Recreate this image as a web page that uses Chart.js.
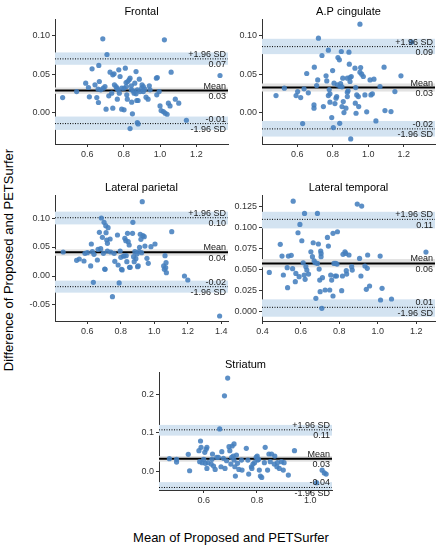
<!DOCTYPE html>
<html>
<head>
<meta charset="utf-8">
<script src="https://cdn.jsdelivr.net/npm/chart.js@4.4.0/dist/chart.umd.min.js"></script>
<style>
  html, body { margin: 0; padding: 0; background: #fff; }
  #wrap { position: relative; width: 442px; height: 550px; overflow: hidden;
          font-family: "Liberation Sans", Arial, Helvetica, sans-serif; color: #000; }
  .panel { position: absolute; }
  .ytitle { position: absolute; left: 8px; top: 260px; font-size: 13px; white-space: nowrap;
            transform: translate(-50%, -50%) rotate(-90deg); }
  .xtitle { position: absolute; left: 231px; top: 537px; font-size: 13px; white-space: nowrap;
            transform: translate(-50%, -50%); }
</style>
</head>
<body>
<div id="wrap">
  <div class="ytitle">Difference of Proposed and PETSurfer</div>
  <div class="xtitle">Mean of Proposed and PETSurfer</div>
</div>
<script>
// ---- data: x = mean of both methods, y = difference ----
const frontalMean = [0.464,0.541,0.591,0.606,0.626,0.611,0.652,0.661,0.666,0.659,0.685,0.708,0.663,0.674,0.688,0.697,0.703,0.718,0.725,0.740,0.747,0.740,0.749,0.758,0.765,0.773,0.780,0.762,0.769,0.789,0.789,0.802,0.802,0.809,0.813,0.815,0.817,0.822,0.830,0.835,0.842,0.842,0.848,0.853,0.844,0.857,0.868,0.872,0.879,0.868,0.875,0.879,0.886,0.890,0.901,0.899,0.908,0.916,0.923,0.934,0.835,0.945,0.980,0.985,0.982,0.995,1.000,1.006,1.018,1.028,1.039,1.024,1.061,1.046,1.055,1.084,1.103,1.145,1.330,0.820,0.776,0.734,0.642,0.861,0.908,0.941,0.875];
const frontalDiff = [0.0196,0.0274,0.0383,0.0327,0.057,0.0205,0.0196,0.0131,0.0405,0.0305,0.0962,0.0757,0.0614,0.0296,0.0318,0.034,0.0044,0.0218,0.0527,0.0492,0.0505,0.0057,0.0361,0.034,0.0174,0.0557,0.047,0.0318,0.0296,0.0318,0.0044,0.0035,0.0318,0.0579,0.0392,0.034,0.0231,0.0405,0.0427,0.0448,0.0296,0.0348,-0.0017,0.0283,0.0135,0.0253,0.0535,0.0157,0.0157,0.0244,-0.013,-0.0148,0.0435,0.0274,0.0361,0.0318,0.034,0.0305,0.02,0.0174,-0.0209,0.0296,0.0448,0.0457,0.0231,0.0274,0.0087,0.0026,0.0013,-0.0008,-0.0022,0.0949,0.0527,0.0122,0.0087,0.0174,0.0122,-0.0100,0.0483,0.0174,0.0253,0.0253,0.0361,0.0383,0.0274,0.0348,0.0296];

const cingulateMean = [0.480,0.527,0.593,0.602,0.619,0.638,0.653,0.662,0.696,0.709,0.715,0.719,0.694,0.694,0.747,0.739,0.762,0.766,0.775,0.775,0.784,0.784,0.780,0.799,0.794,0.803,0.807,0.812,0.818,0.822,0.826,0.829,0.837,0.841,0.844,0.848,0.852,0.839,0.856,0.852,0.859,0.863,0.874,0.882,0.882,0.886,0.882,0.891,0.893,0.897,0.897,0.904,0.901,0.925,0.929,0.927,0.931,0.935,0.944,0.946,0.953,0.957,0.963,0.972,0.981,0.991,1.010,1.015,1.023,1.032,1.043,1.066,1.089,1.094,1.128,1.150,1.184,1.244,0.953,0.630];
const cingulateDiff = [0.0222,0.0318,0.0222,0.0274,0.0196,0.031,0.0509,0.0257,0.0592,0.0352,0.0426,0.097,0.01,0.0057,0.0078,0.0744,0.0479,0.0413,0.0814,0.0222,0.0244,0.0135,0.03,0.0548,-0.0065,-0.0196,0.0383,0.0117,0.0187,0.0209,0.0361,0.0718,0.0688,0.034,0.0379,0.0796,0.0335,-0.014,0.0448,0.0078,0.0144,0.0,0.0057,0.0448,0.0265,0.0283,0.0209,0.0788,0.0631,0.0405,0.0457,0.047,-0.0344,0.0579,0.0326,0.0122,-0.0009,0.023,0.0209,0.0078,0.0526,0.0587,0.05,0.047,0.023,0.0009,0.0426,0.023,0.0244,0.0435,-0.0109,0.034,0.0592,0.0026,0.0013,0.0274,0.0479,0.0918,0.1153,-0.0144];

const parietalMean = [0.456,0.536,0.552,0.58,0.586,0.60,0.62,0.624,0.63,0.636,0.64,0.66,0.664,0.672,0.68,0.684,0.69,0.696,0.70,0.704,0.706,0.71,0.712,0.716,0.72,0.72,0.724,0.736,0.74,0.75,0.76,0.764,0.78,0.784,0.79,0.796,0.80,0.804,0.808,0.816,0.82,0.824,0.83,0.832,0.836,0.84,0.844,0.85,0.852,0.856,0.87,0.872,0.876,0.88,0.884,0.89,0.896,0.90,0.904,0.908,0.912,0.916,0.92,0.924,0.928,0.932,0.94,0.944,0.956,0.964,0.98,1.004,1.064,1.056,1.06,1.07,1.068,1.072,1.104,1.18,1.20,1.39];
const parietalDiff = [0.0414,0.0270,0.0293,0.0259,0.0391,0.0402,0.0173,0.0552,0.042,-0.0109,0.0374,0.0276,0.046,0.0753,0.0471,0.1000,0.0667,0.0391,0.0926,0.0121,0.0115,0.0868,0.0747,0.0621,0.0563,0.0431,0.0834,0.0638,0.0414,-0.0356,0.0391,0.0253,0.0707,0.019,-0.012,0.0431,0.0322,0.0115,0.0104,0.0345,0.0345,0.0650,0.0609,0.035,0.0247,0.0736,0.0592,0.0535,0.015,0.015,0.0736,0.0926,0.0333,0.0247,0.042,0.0299,0.0380,0.0161,0.0173,0.042,0.0494,0.0719,0.0632,0.0402,0.1282,0.0696,0.0678,0.0517,0.0305,0.0219,0.0506,0.0552,0.035,0.0173,0.0115,0.023,0.0144,0.0058,0.0765,0.0,-0.0069,-0.069];

const temporalMean = [0.436,0.493,0.502,0.509,0.529,0.535,0.531,0.550,0.557,0.560,0.571,0.574,0.585,0.595,0.591,0.605,0.612,0.617,0.619,0.622,0.626,0.631,0.640,0.652,0.660,0.664,0.669,0.674,0.678,0.686,0.686,0.691,0.695,0.698,0.703,0.705,0.705,0.700,0.709,0.712,0.726,0.738,0.743,0.750,0.755,0.760,0.767,0.767,0.772,0.778,0.781,0.785,0.790,0.788,0.812,0.816,0.819,0.829,0.833,0.836,0.838,0.850,0.864,0.867,0.893,0.916,0.905,0.912,0.933,0.940,0.945,0.947,0.957,1.012,1.014,1.022,1.071,1.250];
const temporalDiff = [0.0468,0.0802,0.0663,0.0437,0.0524,0.0663,0.0286,0.0671,0.0512,0.1317,0.0357,0.0456,0.094,0.104,0.0417,0.0845,0.0583,0.0437,0.1171,0.0385,0.0536,0.0496,0.0448,0.0714,0.0655,0.0821,0.0607,0.0583,0.0159,0.1171,0.0575,0.0806,0.0508,0.0377,0.0722,0.0694,0.0655,0.0238,0.004,0.0405,0.0258,0.0885,0.0782,0.0258,0.0437,0.0377,0.0933,0.0187,0.0575,0.0425,0.0575,0.0425,0.0952,0.0567,0.025,0.0425,0.0683,0.0714,0.0694,0.0488,0.0448,0.0675,0.0536,0.0496,0.1282,0.1258,0.0635,0.0425,0.0544,0.0266,0.0516,0.0675,0.0306,0.0663,0.0139,0.0278,0.0151,0.071];

const striatumMean = [0.471,0.498,0.498,0.542,0.547,0.582,0.585,0.588,0.590,0.594,0.600,0.604,0.606,0.609,0.612,0.616,0.612,0.628,0.631,0.633,0.637,0.643,0.649,0.655,0.660,0.665,0.668,0.674,0.678,0.680,0.686,0.690,0.695,0.698,0.702,0.705,0.707,0.711,0.714,0.717,0.714,0.719,0.723,0.727,0.732,0.742,0.744,0.760,0.766,0.769,0.779,0.781,0.785,0.791,0.797,0.801,0.803,0.806,0.809,0.813,0.818,0.828,0.831,0.840,0.845,0.850,0.855,0.865,0.867,0.875,0.877,0.884,0.892,0.899,0.902,0.918,0.941,1.024,1.045,1.053,1.060];
const striatumDiff = [0.0336,0.0319,0.025,0.0448,0.0026,0.0543,0.0259,0.0793,0.0629,0.0233,0.0319,0.05,0.0216,0.0578,0.0629,0.0233,0.0086,0.0198,0.0319,0.0457,0.0147,0.006,0.0371,0.0371,0.1103,0.0129,0.0517,0.0345,0.1957,0.0086,0.0284,0.2414,0.0647,0.0543,0.0198,0.0371,0.0664,0.0405,0.0302,0.0129,0.0716,-0.0112,0.0431,0.0216,0.006,0.0302,0.0043,0.0603,0.0302,-0.006,0.0129,0.0086,0.0198,0.0233,0.0371,0.0405,0.0302,0.0319,0.0043,-0.0112,-0.0147,0.0233,0.0629,0.0043,0.0457,0.0259,0.0457,0.0198,0.0405,0.0129,0.0233,0.0086,0.0259,0.0043,0.0233,-0.0086,0.0543,-0.028,0.004,-0.003,-0.006];

// limits of agreement: [upper, mean, lower] and their shaded confidence bands
const frontalLimits   = [0.070, 0.0287, -0.0144];
const frontalBandHi   = [0.0784, 0.0327, -0.0052];
const frontalBandLo   = [0.0623, 0.0244, -0.0226];
const frontalLabels   = ["0.07", "0.03", "-0.01"];

const cingulateLimits = [0.086, 0.0326, -0.0213];
const cingulateBandHi = [0.0962, 0.0379, -0.011];
const cingulateBandLo = [0.0762, 0.0274, -0.0313];
const cingulateLabels = ["0.09", "0.03", "-0.02"];

const parietalLimits  = [0.1005, 0.0409, -0.0184];
const parietalBandHi  = [0.111, 0.046, -0.008];
const parietalBandLo  = [0.089, 0.035, -0.0287];
const parietalLabels  = ["0.10", "0.04", "-0.02"];

const temporalLimits  = [0.110, 0.0575, 0.0052];
const temporalBandHi  = [0.119, 0.0627, 0.0147];
const temporalBandLo  = [0.0992, 0.0528, -0.006];
const temporalLabels  = ["0.11", "0.06", "0.01"];

const striatumLimits  = [0.108, 0.0336, -0.0405];
const striatumBandHi  = [0.1207, 0.0405, -0.0267];
const striatumBandLo  = [0.0931, 0.0259, -0.0543];
const striatumLabels  = ["0.11", "0.03", "-0.04"];

// tick labels
const frontalXTicks   = [0.6, 0.8, 1.0, 1.2];
const frontalYTicks   = [0, 0.05, 0.10];
const cingulateXTicks = [0.6, 0.8, 1.0, 1.2];
const cingulateYTicks = [0, 0.05, 0.10];
const parietalXTicks  = [0.6, 0.8, 1.0, 1.2, 1.4];
const parietalYTicks  = [-0.05, 0, 0.05, 0.10];
const temporalXTicks  = [0.4, 0.6, 0.8, 1.0, 1.2];
const temporalYTicks  = [0, 0.025, 0.05, 0.075, 0.10, 0.125];
const striatumXTicks  = [0.6, 0.8, 1.0];
const striatumYTicks  = [0, 0.1, 0.2];

const limitNames = ["+1.96 SD", "Mean", "-1.96 SD"];

const FONT = '"Liberation Sans", Arial, Helvetica, sans-serif';
const Y_AXIS_W = 50, X_AXIS_H = 20, TITLE_H = 18, RIGHT_PAD = 10;

// plot box = [left, top, right, bottom] in page pixels
const panels = [
  { title: "Frontal", box: [55, 19, 228, 144], x: [0.422, 1.374], y: [-0.041, 0.122], yDigits: 2,
    xs: frontalMean, ys: frontalDiff, xTicks: frontalXTicks, yTicks: frontalYTicks,
    limits: frontalLimits, hi: frontalBandHi, lo: frontalBandLo, labels: frontalLabels },
  { title: "A.P cingulate", box: [262, 19, 435, 144], x: [0.401, 1.376], y: [-0.041, 0.122], yDigits: 2,
    xs: cingulateMean, ys: cingulateDiff, xTicks: cingulateXTicks, yTicks: cingulateYTicks,
    limits: cingulateLimits, hi: cingulateBandHi, lo: cingulateBandLo, labels: cingulateLabels },
  { title: "Lateral parietal", box: [55, 195, 228, 321], x: [0.407, 1.44], y: [-0.0776, 0.1397], yDigits: 2,
    xs: parietalMean, ys: parietalDiff, xTicks: parietalXTicks, yTicks: parietalYTicks,
    limits: parietalLimits, hi: parietalBandHi, lo: parietalBandLo, labels: parietalLabels },
  { title: "Lateral temporal", box: [262, 195, 435, 321], x: [0.398, 1.297], y: [-0.0111, 0.139], yDigits: 3,
    xs: temporalMean, ys: temporalDiff, xTicks: temporalXTicks, yTicks: temporalYTicks,
    limits: temporalLimits, hi: temporalBandHi, lo: temporalBandLo, labels: temporalLabels },
  { title: "Striatum", box: [159, 372, 332, 490], x: [0.432, 1.082], y: [-0.047, 0.257], yDigits: 1,
    xs: striatumMean, ys: striatumDiff, xTicks: striatumXTicks, yTicks: striatumYTicks,
    limits: striatumLimits, hi: striatumBandHi, lo: striatumBandLo, labels: striatumLabels }
];

function makeAgreementPlugin(p) {
  return {
    id: "agreement",
    beforeDatasetsDraw(chart) {
      const { ctx, chartArea: a, scales: { x, y } } = chart;
      ctx.save();
      ctx.beginPath();
      ctx.rect(a.left, a.top, a.width, a.height);
      ctx.clip();
      // confidence bands
      for (let i = 0; i < 3; i++) {
        const top = y.getPixelForValue(p.hi[i]);
        const bot = y.getPixelForValue(p.lo[i]);
        ctx.fillStyle = i === 1 ? "#e2e2e2" : "#d3e3f1";
        ctx.fillRect(a.left, top, a.width, bot - top);
      }
      // limit lines
      for (let i = 0; i < 3; i++) {
        const py = y.getPixelForValue(p.limits[i]);
        ctx.beginPath();
        if (i === 1) {
          ctx.setLineDash([]);
          ctx.lineWidth = 2;
        } else {
          ctx.setLineDash([1, 1.5]);
          ctx.lineWidth = 1;
        }
        ctx.strokeStyle = "#000";
        ctx.moveTo(a.left, py);
        ctx.lineTo(a.right, py);
        ctx.stroke();
      }
      ctx.restore();
    },
    afterDatasetsDraw(chart) {
      const { ctx, chartArea: a, scales: { y } } = chart;
      ctx.save();
      ctx.font = "9px " + FONT;
      ctx.fillStyle = "#1a1a1a";
      ctx.textAlign = "right";
      ctx.textBaseline = "alphabetic";
      const rx = a.right - 2;
      for (let i = 0; i < 3; i++) {
        const py = y.getPixelForValue(p.limits[i]);
        // upper & mean: name above, value below; lower: value above, name below
        const above = i < 2 ? limitNames[i] : p.labels[i];
        const below = i < 2 ? p.labels[i] : limitNames[i];
        ctx.fillText(above, rx, py - 2);
        ctx.fillText(below, rx, py + 8.5);
      }
      ctx.restore();
    }
  };
}

const wrap = document.getElementById("wrap");

panels.forEach(p => {
  const [l, t, r, b] = p.box;
  const w = Y_AXIS_W + (r - l) + RIGHT_PAD;
  const h = TITLE_H + (b - t) + X_AXIS_H;
  const div = document.createElement("div");
  div.className = "panel";
  div.style.left = (l - Y_AXIS_W) + "px";
  div.style.top = (t - TITLE_H) + "px";
  div.style.width = w + "px";
  div.style.height = h + "px";
  const canvas = document.createElement("canvas");
  canvas.width = w;
  canvas.height = h;
  canvas.style.width = w + "px";
  canvas.style.height = h + "px";
  div.appendChild(canvas);
  wrap.appendChild(div);

  const n = Math.min(p.xs.length, p.ys.length);
  const points = [];
  for (let i = 0; i < n; i++) points.push({ x: p.xs[i], y: p.ys[i] });

  new Chart(canvas.getContext("2d"), {
    type: "scatter",
    data: {
      datasets: [{
        data: points,
        pointRadius: 2.6,
        pointBackgroundColor: "rgba(70,128,190,0.88)",
        pointBorderWidth: 0,
        pointHoverRadius: 2.6
      }]
    },
    options: {
      responsive: false,
      animation: false,
      events: [],
      layout: { padding: { left: 0, right: RIGHT_PAD, top: 0, bottom: 0 } },
      plugins: {
        legend: { display: false },
        tooltip: { enabled: false },
        title: {
          display: true,
          text: p.title,
          fullSize: false,
          color: "#000",
          font: { family: FONT, size: 11, weight: "normal", lineHeight: 1.2 },
          padding: { top: 4.3, bottom: 0.5 }
        }
      },
      scales: {
        x: {
          type: "linear",
          min: p.x[0],
          max: p.x[1],
          afterFit: s => { s.height = X_AXIS_H; },
          afterBuildTicks: s => { s.ticks = p.xTicks.map(v => ({ value: v })); },
          grid: { display: true, drawOnChartArea: false, drawTicks: true, tickLength: 3, color: "#333" },
          border: { display: true, color: "#333", width: 1 },
          ticks: {
            color: "#333", padding: 2, maxRotation: 0, autoSkip: false,
            font: { family: FONT, size: 9 },
            callback: v => Number(v).toFixed(1)
          }
        },
        y: {
          type: "linear",
          min: p.y[0],
          max: p.y[1],
          afterFit: s => { s.width = Y_AXIS_W; },
          afterBuildTicks: s => { s.ticks = p.yTicks.map(v => ({ value: v })); },
          grid: { display: true, drawOnChartArea: false, drawTicks: true, tickLength: 3, color: "#333" },
          border: { display: true, color: "#333", width: 1 },
          ticks: {
            color: "#333", padding: 2, autoSkip: false,
            font: { family: FONT, size: 9 },
            callback: v => Number(v).toFixed(p.yDigits)
          }
        }
      }
    },
    plugins: [makeAgreementPlugin(p)]
  });
});
</script>
</body>
</html>
